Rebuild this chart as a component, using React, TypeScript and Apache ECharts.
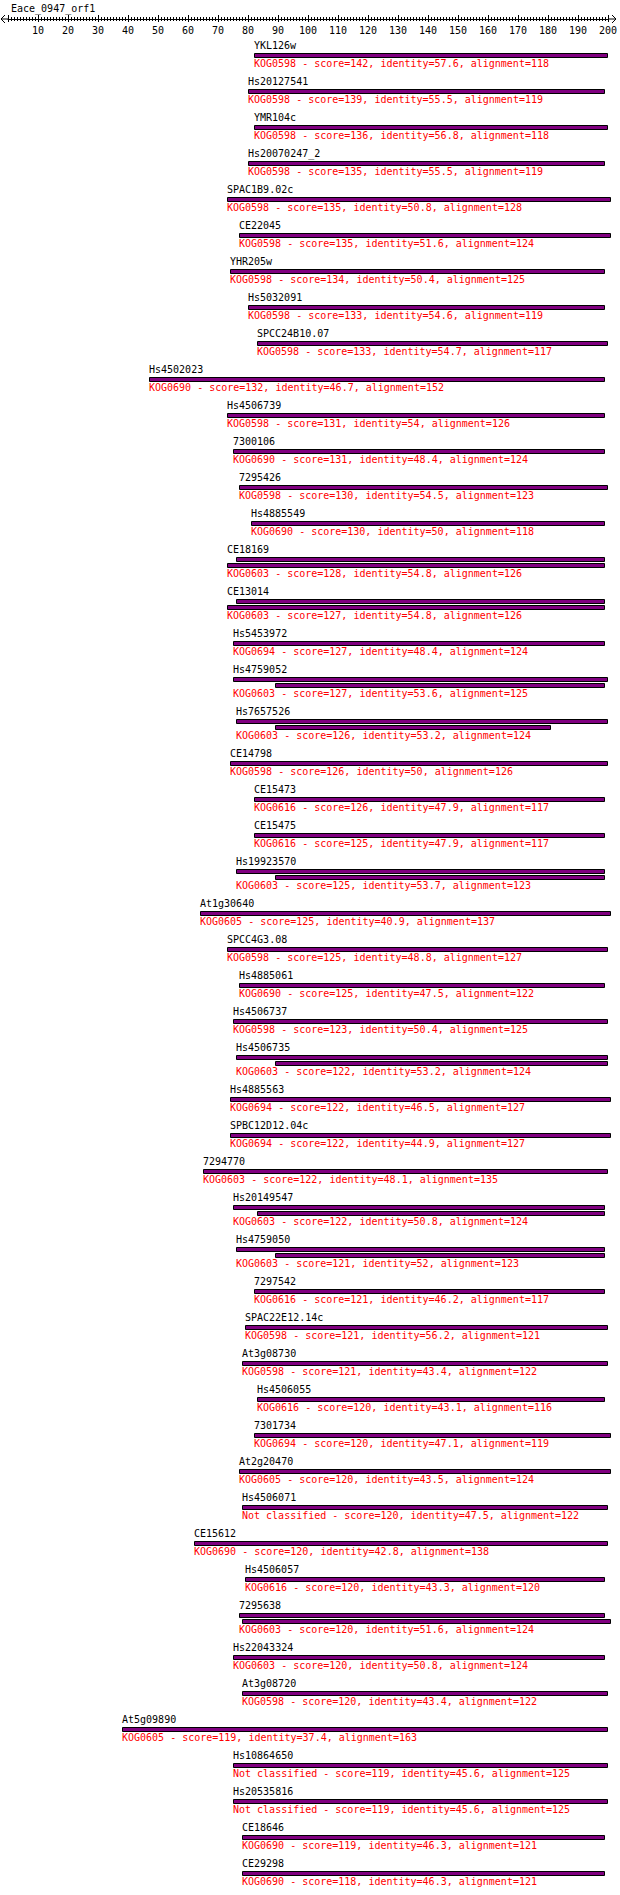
import React, { useEffect, useRef } from "react";
import * as echarts from "echarts";

const chartTitle = "Eace_0947_orf1";

const names = [
  "YKL126w", "Hs20127541", "YMR104c", "Hs20070247_2", "SPAC1B9.02c", "CE22045", "YHR205w", "Hs5032091",
  "SPCC24B10.07", "Hs4502023", "Hs4506739", "7300106", "7295426", "Hs4885549", "CE18169", "CE13014",
  "Hs5453972", "Hs4759052", "Hs7657526", "CE14798", "CE15473", "CE15475", "Hs19923570", "At1g30640",
  "SPCC4G3.08", "Hs4885061", "Hs4506737", "Hs4506735", "Hs4885563", "SPBC12D12.04c", "7294770", "Hs20149547",
  "Hs4759050", "7297542", "SPAC22E12.14c", "At3g08730", "Hs4506055", "7301734", "At2g20470", "Hs4506071",
  "CE15612", "Hs4506057", "7295638", "Hs22043324", "At3g08720", "At5g09890", "Hs10864650", "Hs20535816",
  "CE18646", "CE29298",
];

const kogs = [
  "KOG0598", "KOG0598", "KOG0598", "KOG0598", "KOG0598", "KOG0598", "KOG0598", "KOG0598",
  "KOG0598", "KOG0690", "KOG0598", "KOG0690", "KOG0598", "KOG0690", "KOG0603", "KOG0603",
  "KOG0694", "KOG0603", "KOG0603", "KOG0598", "KOG0616", "KOG0616", "KOG0603", "KOG0605",
  "KOG0598", "KOG0690", "KOG0598", "KOG0603", "KOG0694", "KOG0694", "KOG0603", "KOG0603",
  "KOG0603", "KOG0616", "KOG0598", "KOG0598", "KOG0616", "KOG0694", "KOG0605", "Not classified",
  "KOG0690", "KOG0616", "KOG0603", "KOG0603", "KOG0598", "KOG0605", "Not classified", "Not classified",
  "KOG0690", "KOG0690",
];

const scores = [
  142, 139, 136, 135, 135, 135, 134, 133, 133, 132, 131, 131, 130, 130, 128, 127,
  127, 127, 126, 126, 126, 125, 125, 125, 125, 125, 123, 122, 122, 122, 122, 122,
  121, 121, 121, 121, 120, 120, 120, 120, 120, 120, 120, 120, 120, 119, 119, 119,
  119, 118,
];

const identities = [
  57.6, 55.5, 56.8, 55.5, 50.8, 51.6, 50.4, 54.6, 54.7, 46.7, 54, 48.4, 54.5, 50, 54.8, 54.8,
  48.4, 53.6, 53.2, 50, 47.9, 47.9, 53.7, 40.9, 48.8, 47.5, 50.4, 53.2, 46.5, 44.9, 48.1, 50.8,
  52, 46.2, 56.2, 43.4, 43.1, 47.1, 43.5, 47.5, 42.8, 43.3, 51.6, 50.8, 43.4, 37.4, 45.6, 45.6,
  46.3, 46.3,
];

const alignments = [
  118, 119, 118, 119, 128, 124, 125, 119, 117, 152, 126, 124, 123, 118, 126, 126,
  124, 125, 124, 126, 117, 117, 123, 137, 127, 122, 125, 124, 127, 127, 135, 124,
  123, 117, 121, 122, 116, 119, 124, 122, 138, 120, 124, 124, 122, 163, 125, 125,
  121, 121,
];

// query start / end positions of each hit segment (one or two per row)
const barStarts = [
  [82], [80], [82], [80], [73], [77], [74], [80], [83], [47], [73], [75], [77], [81], [76, 73], [76, 73],
  [75], [75, 89], [76, 89], [74], [82], [82], [76, 89], [64], [73], [77], [75], [76, 89], [74], [74], [65], [75, 83],
  [76, 89], [82], [79], [78], [83], [82], [77], [78], [62], [79], [77, 78], [75], [78], [38], [75], [75],
  [78], [78],
];
const barEnds = [
  [200], [199], [200], [199], [201], [201], [199], [199], [200], [199], [199], [199], [200], [199], [199, 199], [199, 199],
  [199], [200, 199], [200, 181], [200], [199], [199], [199, 199], [201], [200], [199], [200], [200, 200], [201], [201], [200], [199, 199],
  [199, 199], [199], [200], [200], [199], [201], [201], [200], [200], [199], [199, 201], [199], [200], [200], [200], [200],
  [199], [199],
];

const axisMin = 0;
const axisMax = 200;
const axisStep = 10;

const FONT = '"DejaVu Sans Mono", "Liberation Mono", monospace';

export default function App() {
  const ref = useRef<HTMLDivElement>(null);

  useEffect(() => {
    document.body.style.margin = "0";
    const chart = echarts.init(ref.current as HTMLDivElement, null, { renderer: "svg" });

    const ROW = 36;
    const EXTRA = 6;
    const FIRST = 26;
    const rowY: number[] = [];
    let acc = FIRST;
    names.forEach((_, i) => {
      rowY.push(acc);
      acc += ROW + EXTRA * (barStarts[i].length - 1);
    });
    const data = names.map((_, i) => [Math.min(...barStarts[i]), rowY[i], i]);

    const baseAxis = {
      type: "value",
      position: "top",
      min: axisMin,
      max: axisMax,
      interval: axisStep,
      splitLine: { show: false },
    };

    const option: any = {
      animation: false,
      title: {
        text: chartTitle,
        left: 11,
        top: 3,
        padding: 0,
        textStyle: { fontFamily: FONT, fontSize: 10, fontWeight: "normal", color: "#000" },
      },
      grid: { left: 8, right: 12, top: 19, bottom: 0 },
      xAxis: [
        {
          ...baseAxis,
          axisLine: { show: true, onZero: false, lineStyle: { color: "#000", width: 1 } },
          axisTick: { show: true, inside: false, length: 4, lineStyle: { color: "#000" } },
          minorTick: { show: true, splitNumber: 10, length: 2, lineStyle: { color: "#000" } },
          axisLabel: {
            inside: true,
            margin: 6,
            fontFamily: FONT,
            fontSize: 10,
            color: "#000",
            formatter: (v: number) => (v === 0 ? "" : String(v)),
          },
        },
        {
          ...baseAxis,
          axisLine: { show: false, onZero: false },
          axisTick: { show: true, inside: true, length: 3, lineStyle: { color: "#000" } },
          minorTick: { show: true, splitNumber: 10, length: 2, lineStyle: { color: "#000" } },
          axisLabel: { show: false },
        },
      ],
      yAxis: { type: "value", inverse: true, min: 0, max: 1876, show: false },
      graphic: [
        { type: "polyline", shape: { points: [[1, 19], [8, 19]] }, style: { stroke: "#000", fill: null, lineWidth: 1 } },
        { type: "polyline", shape: { points: [[5, 15], [1, 19], [5, 23]] }, style: { stroke: "#000", fill: null, lineWidth: 1 } },
        { type: "polyline", shape: { points: [[608, 19], [616, 19]] }, style: { stroke: "#000", fill: null, lineWidth: 1 } },
        { type: "polyline", shape: { points: [[612, 15], [616, 19], [612, 23]] }, style: { stroke: "#000", fill: null, lineWidth: 1 } },
      ],
      series: [
        {
          type: "custom",
          clip: false,
          xAxisIndex: 0,
          data,
          encode: { x: 0, y: 1 },
          renderItem: (_params: any, api: any) => {
            const i = api.value(2);
            const yL = api.value(1);
            const x0 = api.value(0);
            const p = api.coord([x0, yL]);
            const n = barStarts[i].length;
            const children: any[] = [];
            children.push({
              type: "text",
              style: { text: names[i], x: p[0], y: p[1], fill: "#000", font: `10px ${FONT}`, align: "left", verticalAlign: "middle" },
            });
            barStarts[i].forEach((s: number, k: number) => {
              const a = api.coord([s, yL + 9.5 + EXTRA * k]);
              const b = api.coord([barEnds[i][k], yL + 9.5 + EXTRA * k]);
              children.push({
                type: "rect",
                shape: { x: Math.round(a[0]) + 0.5, y: Math.round(a[1] - 2) + 0.5, width: Math.round(b[0] - a[0]) - 1, height: 4 },
                style: { fill: "#800080", stroke: "#000", lineWidth: 1 },
              });
            });
            const q = api.coord([x0, yL + 18.5 + EXTRA * (n - 1)]);
            children.push({
              type: "text",
              style: {
                text: `${kogs[i]} - score=${scores[i]}, identity=${identities[i]}, alignment=${alignments[i]}`,
                x: p[0],
                y: q[1],
                fill: "#ff0000",
                font: `10px ${FONT}`,
                align: "left",
                verticalAlign: "middle",
              },
            });
            return { type: "group", children };
          },
        },
      ],
    };

    chart.setOption(option);
    return () => chart.dispose();
  }, []);

  return <div ref={ref} style={{ position: "absolute", left: 0, top: 0, width: 620, height: 1895 }} />;
}
